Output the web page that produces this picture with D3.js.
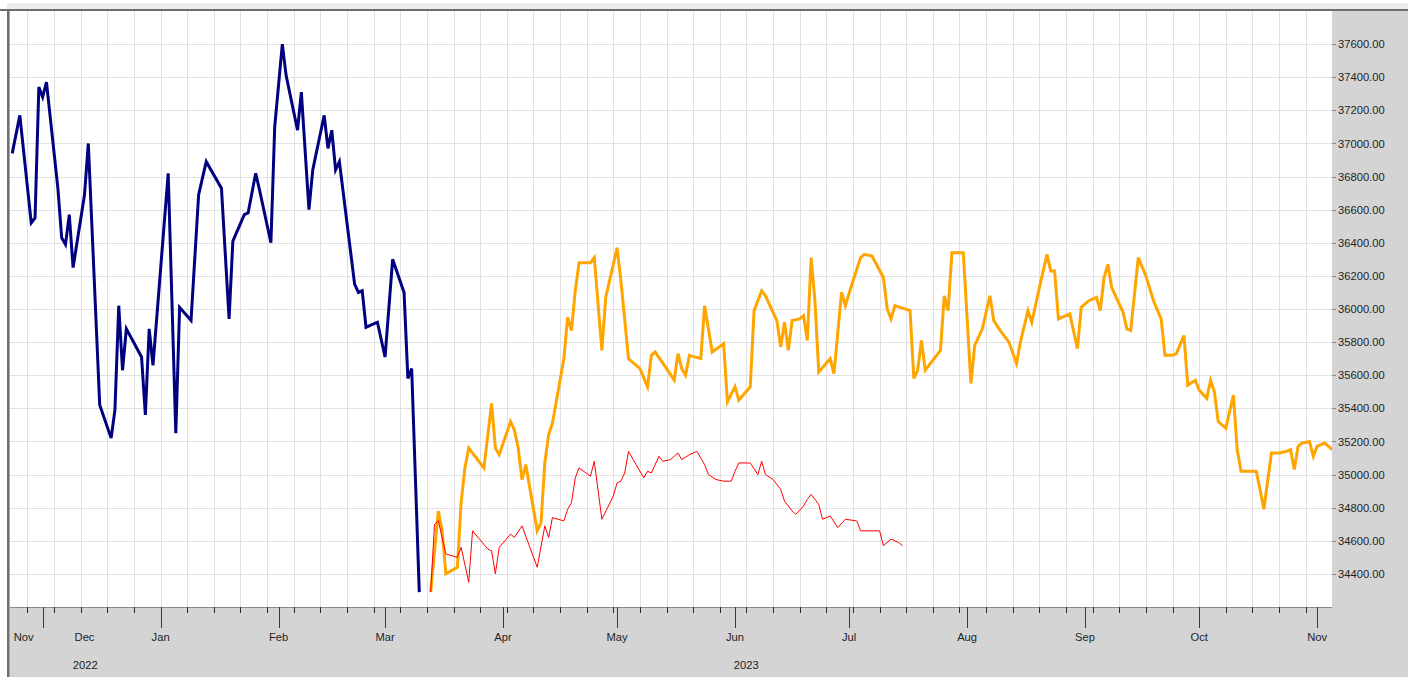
<!DOCTYPE html>
<html>
<head>
<meta charset="utf-8">
<script src="https://cdn.jsdelivr.net/npm/d3@7"></script>
<style>
  html, body { margin: 0; padding: 0; background: #d4d4d4; overflow: hidden; }
  svg { display: block; font-family: "Liberation Sans", Arial, sans-serif; }
  .grid line { stroke: #e1e1e1; stroke-width: 1; }
  .grid path { display: none; }
  .ylab text { font-size: 11.2px; fill: #1e1e1e; }
  .tick line { shape-rendering: crispEdges; }
</style>
</head>
<body>
<svg id="chart" width="1408" height="677"></svg>
<script>
var width  = 1408;
var height = 677;
var plot = {left: 10, top: 11, right: 1332, bottom: 607};

// previous series (navy)
var navyDates = ["2022-11-23","2022-11-25","2022-11-28","2022-11-29","2022-11-30","2022-12-01","2022-12-02",
  "2022-12-05","2022-12-06","2022-12-07","2022-12-08","2022-12-09","2022-12-12","2022-12-13","2022-12-16",
  "2022-12-19","2022-12-20","2022-12-21","2022-12-22","2022-12-23","2022-12-27","2022-12-28","2022-12-29",
  "2022-12-30","2023-01-03","2023-01-05","2023-01-06","2023-01-09","2023-01-11","2023-01-13","2023-01-17",
  "2023-01-19","2023-01-20","2023-01-23","2023-01-24","2023-01-26","2023-01-27","2023-01-30","2023-01-31",
  "2023-02-02","2023-02-03","2023-02-06","2023-02-07","2023-02-09","2023-02-10","2023-02-13","2023-02-14",
  "2023-02-15","2023-02-16","2023-02-17","2023-02-21","2023-02-22","2023-02-23","2023-02-24","2023-02-27",
  "2023-03-01","2023-03-03","2023-03-06","2023-03-07","2023-03-08","2023-03-10"];
var navyValues = [36940,37170,36520,36550,37340,37280,37370,
  36730,36430,36390,36570,36250,36690,37000,35420,
  35220,35390,36020,35630,35880,35710,35360,35880,
  35660,36820,35250,36010,35930,36690,36890,36730,
  35940,36410,36570,36580,36820,36720,36400,37100,
  37600,37410,37080,37310,36600,36840,37170,36970,
  37080,36840,36890,36150,36100,36110,35890,35920,
  35710,36300,36100,35580,35640,34290];

// forecast series (orange)
var orangeDates = ["2023-03-13","2023-03-15","2023-03-16","2023-03-17","2023-03-20","2023-03-21","2023-03-22",
  "2023-03-23","2023-03-27","2023-03-29","2023-03-30","2023-03-31","2023-04-03","2023-04-04","2023-04-05",
  "2023-04-06","2023-04-07","2023-04-10","2023-04-11","2023-04-12","2023-04-13","2023-04-14","2023-04-16",
  "2023-04-17","2023-04-18","2023-04-19","2023-04-20","2023-04-21","2023-04-24","2023-04-25","2023-04-27",
  "2023-04-28","2023-04-29","2023-05-01","2023-05-02","2023-05-04","2023-05-07","2023-05-09","2023-05-10",
  "2023-05-11","2023-05-14","2023-05-16","2023-05-17","2023-05-18","2023-05-19","2023-05-20","2023-05-23",
  "2023-05-24","2023-05-26","2023-05-29","2023-05-30","2023-06-01","2023-06-02","2023-06-05","2023-06-06",
  "2023-06-08","2023-06-09","2023-06-12","2023-06-13","2023-06-14","2023-06-15","2023-06-16","2023-06-18",
  "2023-06-19","2023-06-20","2023-06-21","2023-06-22","2023-06-23","2023-06-26","2023-06-27","2023-06-29",
  "2023-06-30","2023-07-02","2023-07-04","2023-07-05","2023-07-07","2023-07-10","2023-07-11","2023-07-12",
  "2023-07-13","2023-07-17","2023-07-18","2023-07-19","2023-07-20","2023-07-21","2023-07-25","2023-07-26",
  "2023-07-27","2023-07-28","2023-07-31","2023-08-02","2023-08-03","2023-08-05","2023-08-07","2023-08-08",
  "2023-08-10","2023-08-12","2023-08-14","2023-08-15","2023-08-17","2023-08-18","2023-08-20","2023-08-22",
  "2023-08-23","2023-08-24","2023-08-25","2023-08-28","2023-08-30","2023-08-31","2023-09-02","2023-09-04",
  "2023-09-05","2023-09-06","2023-09-07","2023-09-08","2023-09-11","2023-09-12","2023-09-13","2023-09-15",
  "2023-09-17","2023-09-19","2023-09-21","2023-09-22","2023-09-24","2023-09-25","2023-09-27","2023-09-28",
  "2023-09-30","2023-10-01","2023-10-03","2023-10-04","2023-10-05","2023-10-06","2023-10-08","2023-10-10",
  "2023-10-11","2023-10-12","2023-10-16","2023-10-17","2023-10-18","2023-10-20","2023-10-22","2023-10-24",
  "2023-10-25","2023-10-26","2023-10-27","2023-10-28","2023-10-30","2023-10-31","2023-11-01","2023-11-03",
  "2023-11-05"];
var orangeValues = [34290,34780,34660,34400,34440,34830,35040,
  35160,35040,35430,35160,35120,35320,35270,35160,
  34970,35060,34660,34710,35070,35240,35310,35570,
  35700,35950,35870,36110,36280,36280,36310,35750,
  36070,36170,36370,36170,35700,35640,35530,35720,
  35740,35640,35570,35730,35640,35600,35720,35700,
  36020,35740,35790,35440,35530,35450,35530,35990,
  36110,36080,35930,35770,35920,35750,35930,35940,
  35960,35810,36310,36050,35620,35700,35610,36100,
  36020,36170,36310,36330,36320,36190,36000,35940,
  36020,35990,35580,35630,35810,35630,35750,36080,
  35990,36340,36340,35550,35780,35880,36080,35930,
  35860,35800,35670,35800,35990,35920,36130,36330,
  36230,36230,35940,35970,35760,36010,36050,36070,
  35990,36190,36270,36130,35980,35880,35870,36310,
  36200,36050,35940,35720,35720,35730,35840,35540,
  35570,35510,35460,35570,35500,35320,35280,35480,
  35150,35020,35020,34910,34790,35130,35130,35140,
  35150,35030,35170,35190,35200,35110,35170,35190,
  35150];

// actual series (red)
var redDates = ["2023-03-13","2023-03-14","2023-03-15","2023-03-17","2023-03-20","2023-03-21","2023-03-23",
  "2023-03-24","2023-03-28","2023-03-29","2023-03-30","2023-03-31","2023-04-03","2023-04-04","2023-04-06",
  "2023-04-10","2023-04-12","2023-04-13","2023-04-14","2023-04-17","2023-04-18","2023-04-19","2023-04-20",
  "2023-04-21","2023-04-24","2023-04-25","2023-04-27","2023-04-30","2023-05-01","2023-05-02","2023-05-03",
  "2023-05-04","2023-05-08","2023-05-09","2023-05-10","2023-05-12","2023-05-13","2023-05-15","2023-05-17",
  "2023-05-18","2023-05-20","2023-05-22","2023-05-24","2023-05-25","2023-05-27","2023-05-29","2023-05-31",
  "2023-06-01","2023-06-02","2023-06-05","2023-06-07","2023-06-08","2023-06-09","2023-06-11","2023-06-13",
  "2023-06-14","2023-06-16","2023-06-17","2023-06-19","2023-06-20","2023-06-21","2023-06-23","2023-06-24",
  "2023-06-26","2023-06-28","2023-06-30","2023-07-03","2023-07-04","2023-07-07","2023-07-09","2023-07-10",
  "2023-07-12","2023-07-14","2023-07-15"];
var redValues = [34290,34700,34720,34520,34500,34560,34350,
  34660,34550,34540,34400,34560,34640,34620,34690,
  34440,34690,34620,34740,34720,34790,34830,34980,
  35040,34990,35080,34730,34870,34950,34960,35010,
  35140,34980,35020,35010,35110,35080,35090,35130,
  35090,35120,35140,35060,35000,34970,34960,34960,
  35020,35070,35070,35000,35080,35000,34970,34910,
  34840,34780,34760,34810,34850,34880,34820,34730,
  34750,34680,34730,34720,34660,34660,34660,34570,
  34610,34590,34570];

// axis labels
var yTicks = [34400,34600,34800,35000,35200,35400,35600,35800,36000,36200,36400,36600,36800,37000,37200,37400,37600];
var monthLabels = ["Nov","Dec","Jan","Feb","Mar","Apr","May","Jun","Jul","Aug","Sep","Oct","Nov"];
var monthLabelDates = ["2022-11-26","2022-12-12","2023-01-01","2023-02-01","2023-03-01","2023-04-01","2023-05-01",
  "2023-06-01","2023-07-01","2023-08-01","2023-09-01","2023-10-01","2023-11-01"];
var yearLabels = ["2022","2023"];

var parse = d3.timeParse("%Y-%m-%d");

function series(dates, values) {
    return dates.map(function(d, i) { return {date: parse(d), value: values[i]}; });
}

var navy   = series(navyDates, navyValues);
var orange = series(orangeDates, orangeValues);
var red    = series(redDates, redValues);

var x = d3.scaleTime()
    .domain([new Date(2022, 10, 22, 10), new Date(2023, 10, 4, 22)])
    .range([plot.left, plot.right]);

var y = d3.scaleLinear()
    .domain([34200, 37800])
    .range([plot.bottom, plot.top]);

var svg = d3.select("#chart");

// window frame
svg.append("rect").attr("x", 0).attr("y", 0).attr("width", width).attr("height", height).attr("fill", "#d4d4d4");
svg.append("rect").attr("x", 0).attr("y", 0).attr("width", width).attr("height", 3).attr("fill", "#ffffff");
svg.append("rect").attr("x", 0).attr("y", 3).attr("width", width).attr("height", 6).attr("fill", "#ececec");
svg.append("rect").attr("x", 0).attr("y", 0).attr("width", 7).attr("height", height).attr("fill", "#ffffff");

// plot background
svg.append("rect")
    .attr("x", plot.left).attr("y", plot.top)
    .attr("width", plot.right - plot.left).attr("height", plot.bottom - plot.top)
    .attr("fill", "#ffffff");

svg.append("clipPath").attr("id", "clip")
    .append("rect")
    .attr("x", plot.left).attr("y", plot.top)
    .attr("width", plot.right - plot.left).attr("height", plot.bottom - plot.top);

// grid lines
var weeks = d3.timeSunday.range(x.domain()[0], x.domain()[1]);

svg.append("g")
    .attr("class", "grid")
    .attr("transform", "translate(0," + plot.bottom + ")")
    .call(d3.axisBottom(x).tickValues(weeks).tickSize(-(plot.bottom - plot.top)).tickFormat(""));

svg.append("g")
    .attr("class", "grid")
    .attr("transform", "translate(" + plot.left + ",0)")
    .call(d3.axisLeft(y).tickValues(yTicks).tickSize(-(plot.right - plot.left)).tickFormat(""));

// lines
var line = d3.line()
    .x(function(d) { return x(d.date); })
    .y(function(d) { return y(d.value); });

var lines = svg.append("g").attr("clip-path", "url(#clip)");

lines.append("path")
    .datum(navy)
    .attr("d", line)
    .attr("fill", "none")
    .attr("stroke", "#000080")
    .attr("stroke-width", 3);

lines.append("path")
    .datum(orange)
    .attr("d", line)
    .attr("fill", "none")
    .attr("stroke", "#ffa500")
    .attr("stroke-width", 3);

lines.append("path")
    .datum(red)
    .attr("d", line)
    .attr("fill", "none")
    .attr("stroke", "#ff0000")
    .attr("stroke-width", 1);

// frame lines
svg.append("line").attr("x1", 0).attr("x2", width).attr("y1", 10).attr("y2", 10)
    .attr("stroke", "#6e6e6e").attr("stroke-width", 2);
svg.append("line").attr("x1", 8).attr("x2", 8).attr("y1", 9).attr("y2", height)
    .attr("stroke", "#6e6e6e").attr("stroke-width", 2);
svg.append("line").attr("x1", 9.5).attr("x2", 9.5).attr("y1", 11).attr("y2", height)
    .attr("stroke", "#a8a8a8").attr("stroke-width", 1);
svg.append("line").attr("x1", plot.left).attr("x2", plot.right).attr("y1", plot.bottom + 0.5).attr("y2", plot.bottom + 0.5)
    .attr("stroke", "#8a8a8a").attr("stroke-width", 1);

// x axis: weekly ticks
var xWeek = svg.append("g")
    .attr("transform", "translate(0," + plot.bottom + ")")
    .call(d3.axisBottom(x).tickValues(weeks).tickSize(6).tickFormat(""));
xWeek.select(".domain").remove();
xWeek.selectAll(".tick line").attr("stroke", "#2a2a2a");

// x axis: month ticks
var months = d3.timeMonth.range(x.domain()[0], x.domain()[1]);
var xMonth = svg.append("g")
    .attr("transform", "translate(0," + plot.bottom + ")")
    .call(d3.axisBottom(x).tickValues(months).tickSize(21).tickFormat(""));
xMonth.select(".domain").remove();
xMonth.selectAll(".tick line").attr("stroke", "#3a3a3a");

svg.append("g").selectAll("text")
    .data(monthLabels)
    .enter().append("text")
    .attr("x", function(d, i) { return x(parse(monthLabelDates[i])); })
    .attr("y", 641)
    .attr("text-anchor", "middle")
    .attr("font-size", "11.2px")
    .attr("fill", "#1e1e1e")
    .text(function(d) { return d; });

// year labels centred in the visible part of each year
svg.append("g").selectAll("text")
    .data(yearLabels)
    .enter().append("text")
    .attr("x", function(d) {
        var a = d3.max([new Date(+d, 0, 1), x.domain()[0]]);
        var b = d3.min([new Date(+d + 1, 0, 1), x.domain()[1]]);
        return (x(a) + x(b)) / 2;
    })
    .attr("y", 669)
    .attr("text-anchor", "middle")
    .attr("font-size", "11.2px")
    .attr("fill", "#1e1e1e")
    .text(function(d) { return d; });

// y axis on the right
var yAxis = svg.append("g")
    .attr("class", "ylab")
    .attr("transform", "translate(" + plot.right + ",0)")
    .call(d3.axisRight(y).tickValues(yTicks).tickSize(4).tickPadding(2).tickFormat(d3.format(".2f")));
yAxis.select(".domain").remove();
yAxis.selectAll(".tick line").attr("stroke", "#8a8a8a");
yAxis.selectAll(".tick text").attr("font-family", "Liberation Sans, Arial, sans-serif");
</script>
</body>
</html>
